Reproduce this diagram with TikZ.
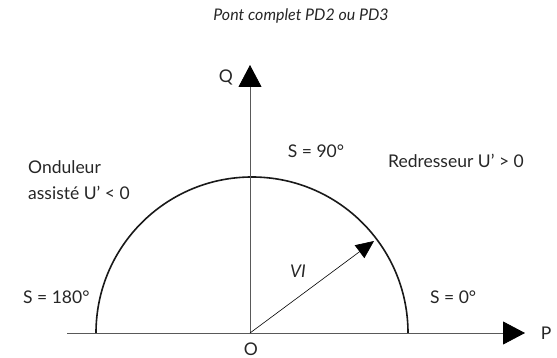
\documentclass[tikz,border=0pt]{standalone}
\usepackage{fontspec}
\setmainfont{Lato}
\usetikzlibrary{arrows.meta}
\begin{document}
\begin{tikzpicture}[x=1pt,y=-1pt,
  axis/.style={draw=black!65,line width=0.8pt},
  bigtip/.style={-{Triangle[length=22pt,width=23pt,color=black]}},
  vec/.style={draw=black,line width=0.6pt,-{Triangle[length=18pt,width=16pt]}},
  circ/.style={draw=black!90,line width=1.6pt},
  lab/.style={font=\fontsize{17.5}{20}\selectfont,text=black!85,inner sep=0pt}]
\useasboundingbox (0,0) rectangle (557,358);
\coordinate (O) at (250,333);
\coordinate (Pstart) at (67,333);
\coordinate (Ptip) at (525,333);
\coordinate (Qtip) at (250,65);
\coordinate (VItip) at (374,241);
\draw[circ] (408,333) arc[start angle=0,end angle=-180,radius=156];
\draw[axis,bigtip] (Pstart) -- (Ptip);
\draw[axis,bigtip] (O) -- (Qtip);
\draw[vec] (O) -- (VItip);
\node[lab,font=\fontsize{16}{19}\selectfont\itshape] (title) at (301,16) {Pont complet PD2 ou PD3};
\node[lab] (Q) at (226,77) {Q};
\node[lab] (P) at (546,333) {P};
\node[lab] (Olab) at (251,349) {O};
\node[lab] (s90) at (316,151) {S = 90°};
\node[lab,anchor=west] (red) at (388,161) {Redresseur U’ > 0};
\node[lab,anchor=west] (ond1) at (28,167) {Onduleur};
\node[lab,anchor=west] (ond2) at (28,193) {assisté U’ < 0};
\node[lab,anchor=west] (s180) at (23,297) {S = 180°};
\node[lab,anchor=west] (s0) at (430,297) {S = 0°};
\node[lab,font=\fontsize{17.5}{20}\selectfont\itshape] (VI) at (298,271) {VI};
\end{tikzpicture}
\end{document}
